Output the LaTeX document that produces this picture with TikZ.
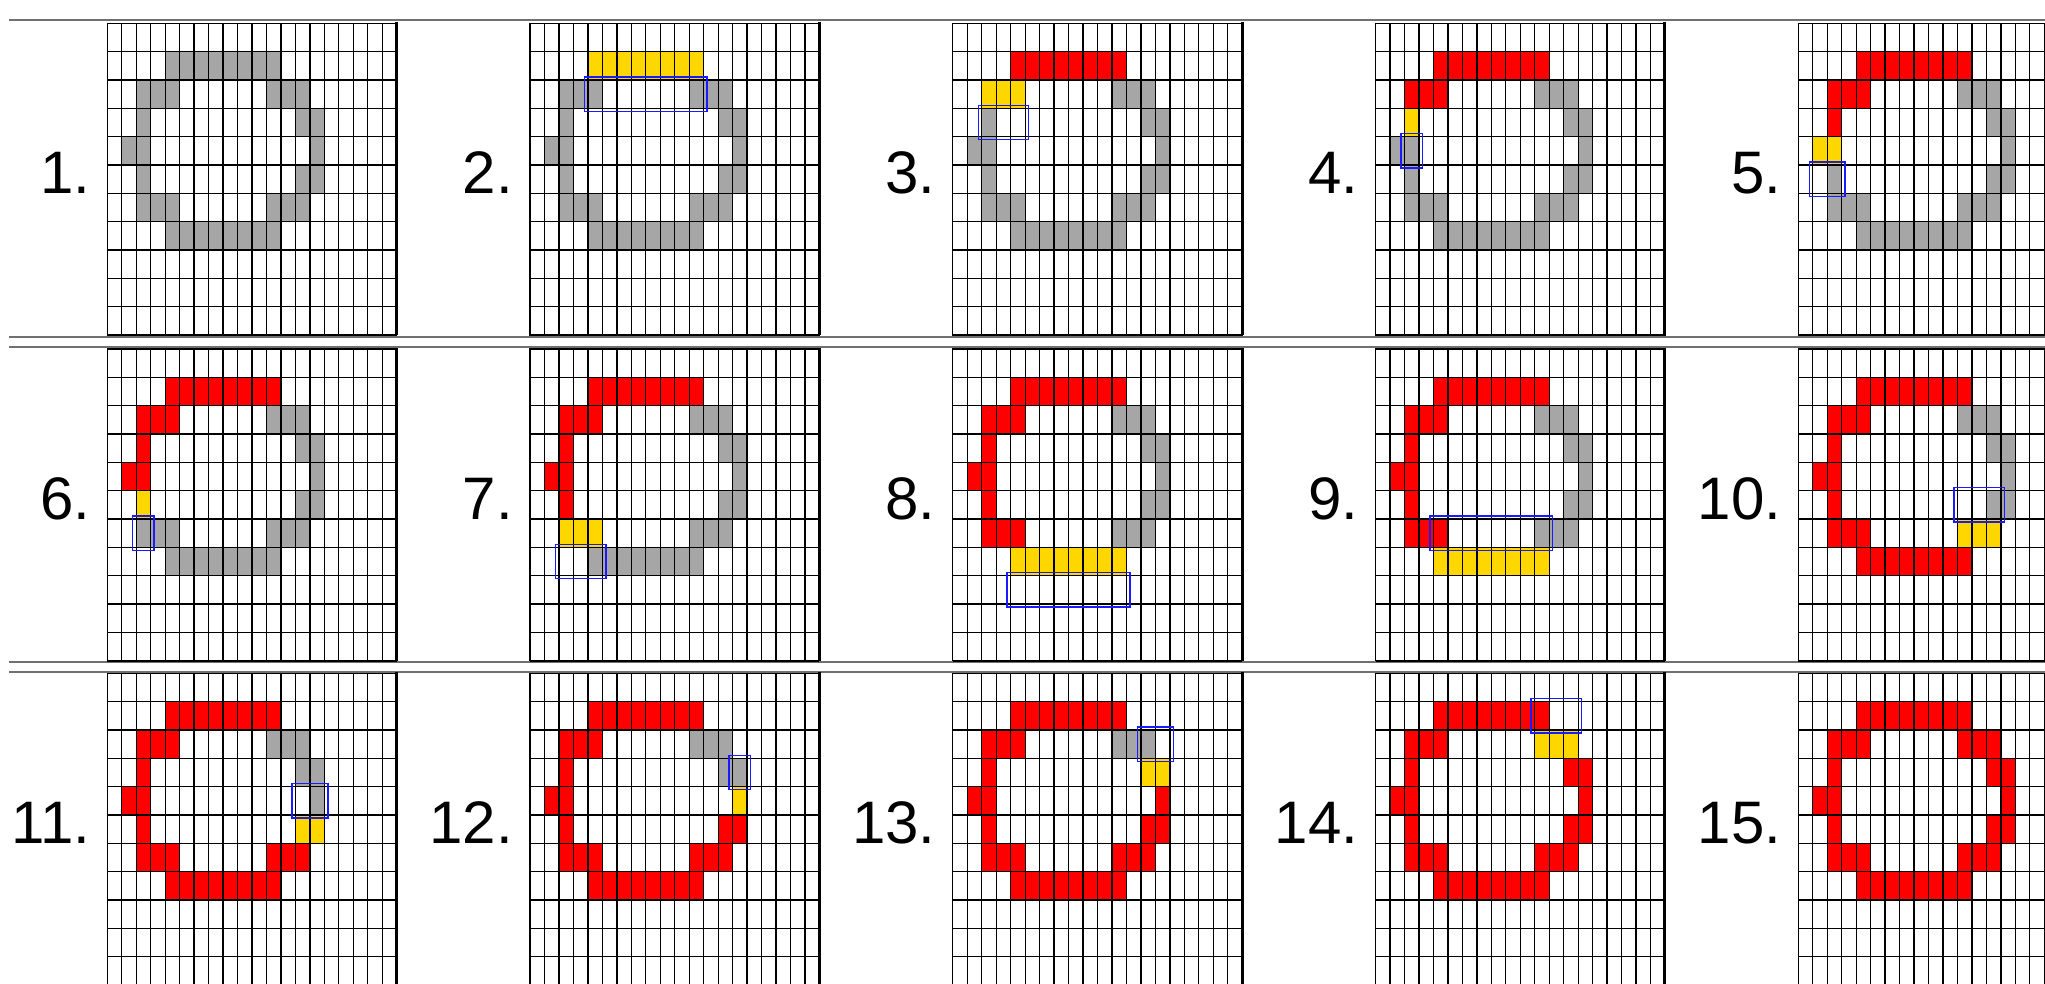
\documentclass[tikz,border=0pt]{standalone}
\usepackage{fontspec}
\setmainfont{Liberation Sans}
\definecolor{cellgray}{HTML}{A6A6A6}
\definecolor{cellred}{HTML}{FF0000}
\definecolor{cellyel}{HTML}{FFD700}
\definecolor{boxblue}{HTML}{1A1AFF}
\definecolor{sepgray}{HTML}{707070}
\tikzset{
  gridline/.style={draw=black, line width=1.3pt, line cap=rect},
  gridedge/.style={draw=black, line width=3pt},
  gridbottom/.style={draw=black, line width=2pt},
  seprule/.style={draw=sepgray, line width=2pt},
  lab/.style={font=\fontsize{60}{62}\selectfont, anchor=base east, inner sep=0pt},
  hilite/.style={draw=boxblue, line width=1.5pt},
}
% fill cells of one row: colour, row, first col, last col
\newcommand\cellrun[4]{\fill[#1] (#3,#2) rectangle (#4+1,#2+1);}
\newcommand\grpT[1]{\cellrun{#1}{1}{4}{11}}
\newcommand\grpA[1]{\cellrun{#1}{2}{2}{4}}
\newcommand\grpB[1]{\cellrun{#1}{3}{2}{2}}
\newcommand\grpC[1]{\cellrun{#1}{4}{1}{2}}
\newcommand\grpD[1]{\cellrun{#1}{5}{2}{2}}
\newcommand\grpE[1]{\cellrun{#1}{6}{2}{4}}
\newcommand\grpF[1]{\cellrun{#1}{7}{4}{11}}
\newcommand\grpG[1]{\cellrun{#1}{6}{11}{13}}
\newcommand\grpH[1]{\cellrun{#1}{5}{13}{14}}
\newcommand\grpI[1]{\cellrun{#1}{4}{14}{14}}
\newcommand\grpJ[1]{\cellrun{#1}{3}{13}{14}}
\newcommand\grpK[1]{\cellrun{#1}{2}{11}{13}}
\newcommand\allin[1]{\grpT{#1}\grpA{#1}\grpB{#1}\grpC{#1}\grpD{#1}\grpE{#1}\grpF{#1}\grpG{#1}\grpH{#1}\grpI{#1}\grpJ{#1}\grpK{#1}}
% selection box: row, first col, last col
\newcommand\selbox[3]{\draw[hilite] ([xshift=-3.5pt,yshift=3pt]#2,#1) rectangle ([xshift=3.5pt,yshift=-3pt]#3+1,#1+1);}
% panel: grid left x, grid top y, label, fills, box
\newcommand\pnl[5]{%
  \begin{scope}[shift={(#1,#2)}, x=14.47pt, y=-28.33pt]
    #4
    \foreach \i in {0,...,20} \draw[gridline] (\i,0) -- (\i,11);
    \foreach \j in {0,...,10} \draw[gridline] (0,\j) -- (20,\j);
    \draw[gridbottom] (0,11) -- (20,11);
    \draw[gridedge] (20,-0.05) -- (20,11);
    #5
  \end{scope}
  \node[lab] (label#3) at (#1-17,#2+170) {#3.};
}
\begin{document}
\begin{tikzpicture}[x=1pt,y=-1pt]
\useasboundingbox (0,0) rectangle (2045,984);
\clip (0,0) rectangle (2045,984);
\fill[white] (0,0) rectangle (2045,984);
% separator rules
\foreach \yy in {20,336.7,346.7,661.7,672.3}
  \draw[seprule] (9,\yy) -- (2045,\yy);
% row 1
\pnl{107.3}{23.3}{1}{\allin{cellgray}}{}
\pnl{530.05}{23.3}{2}{\allin{cellgray}\grpT{cellyel}}{\selbox{2}{4}{11}}
\pnl{952.8}{23.3}{3}{\allin{cellgray}\grpT{cellred}\grpA{cellyel}}{\selbox{3}{2}{4}}
\pnl{1375.55}{23.3}{4}{\allin{cellgray}\grpT{cellred}\grpA{cellred}\grpB{cellyel}}{\selbox{4}{2}{2}}
\pnl{1798.3}{23.3}{5}{\allin{cellgray}\grpT{cellred}\grpA{cellred}\grpB{cellred}\grpC{cellyel}}{\selbox{5}{1}{2}}
% row 2
\pnl{107.3}{349}{6}{\allin{cellgray}\grpT{cellred}\grpA{cellred}\grpB{cellred}\grpC{cellred}\grpD{cellyel}}{\selbox{6}{2}{2}}
\pnl{530.05}{349}{7}{\allin{cellgray}\grpT{cellred}\grpA{cellred}\grpB{cellred}\grpC{cellred}\grpD{cellred}\grpE{cellyel}}{\selbox{7}{2}{4}}
\pnl{952.8}{349}{8}{\allin{cellgray}\grpT{cellred}\grpA{cellred}\grpB{cellred}\grpC{cellred}\grpD{cellred}\grpE{cellred}\grpF{cellyel}}{\selbox{8}{4}{11}}
\pnl{1375.55}{349}{9}{\allin{cellgray}\grpT{cellred}\grpA{cellred}\grpB{cellred}\grpC{cellred}\grpD{cellred}\grpE{cellred}\grpF{cellyel}}{\selbox{6}{4}{11}}
\pnl{1798.3}{349}{10}{\allin{cellred}\grpK{cellgray}\grpJ{cellgray}\grpI{cellgray}\grpH{cellgray}\grpG{cellyel}}{\selbox{5}{11}{13}}
% row 3
\pnl{107.3}{673.3}{11}{\allin{cellred}\grpK{cellgray}\grpJ{cellgray}\grpI{cellgray}\grpH{cellyel}}{\selbox{4}{13}{14}}
\pnl{530.05}{673.3}{12}{\allin{cellred}\grpK{cellgray}\grpJ{cellgray}\grpI{cellyel}}{\selbox{3}{14}{14}}
\pnl{952.8}{673.3}{13}{\allin{cellred}\grpK{cellgray}\grpJ{cellyel}}{\selbox{2}{13}{14}}
\pnl{1375.55}{673.3}{14}{\allin{cellred}\grpK{cellyel}}{\selbox{1}{11}{13}}
\pnl{1798.3}{673.3}{15}{\allin{cellred}}{}
\end{tikzpicture}
\end{document}
